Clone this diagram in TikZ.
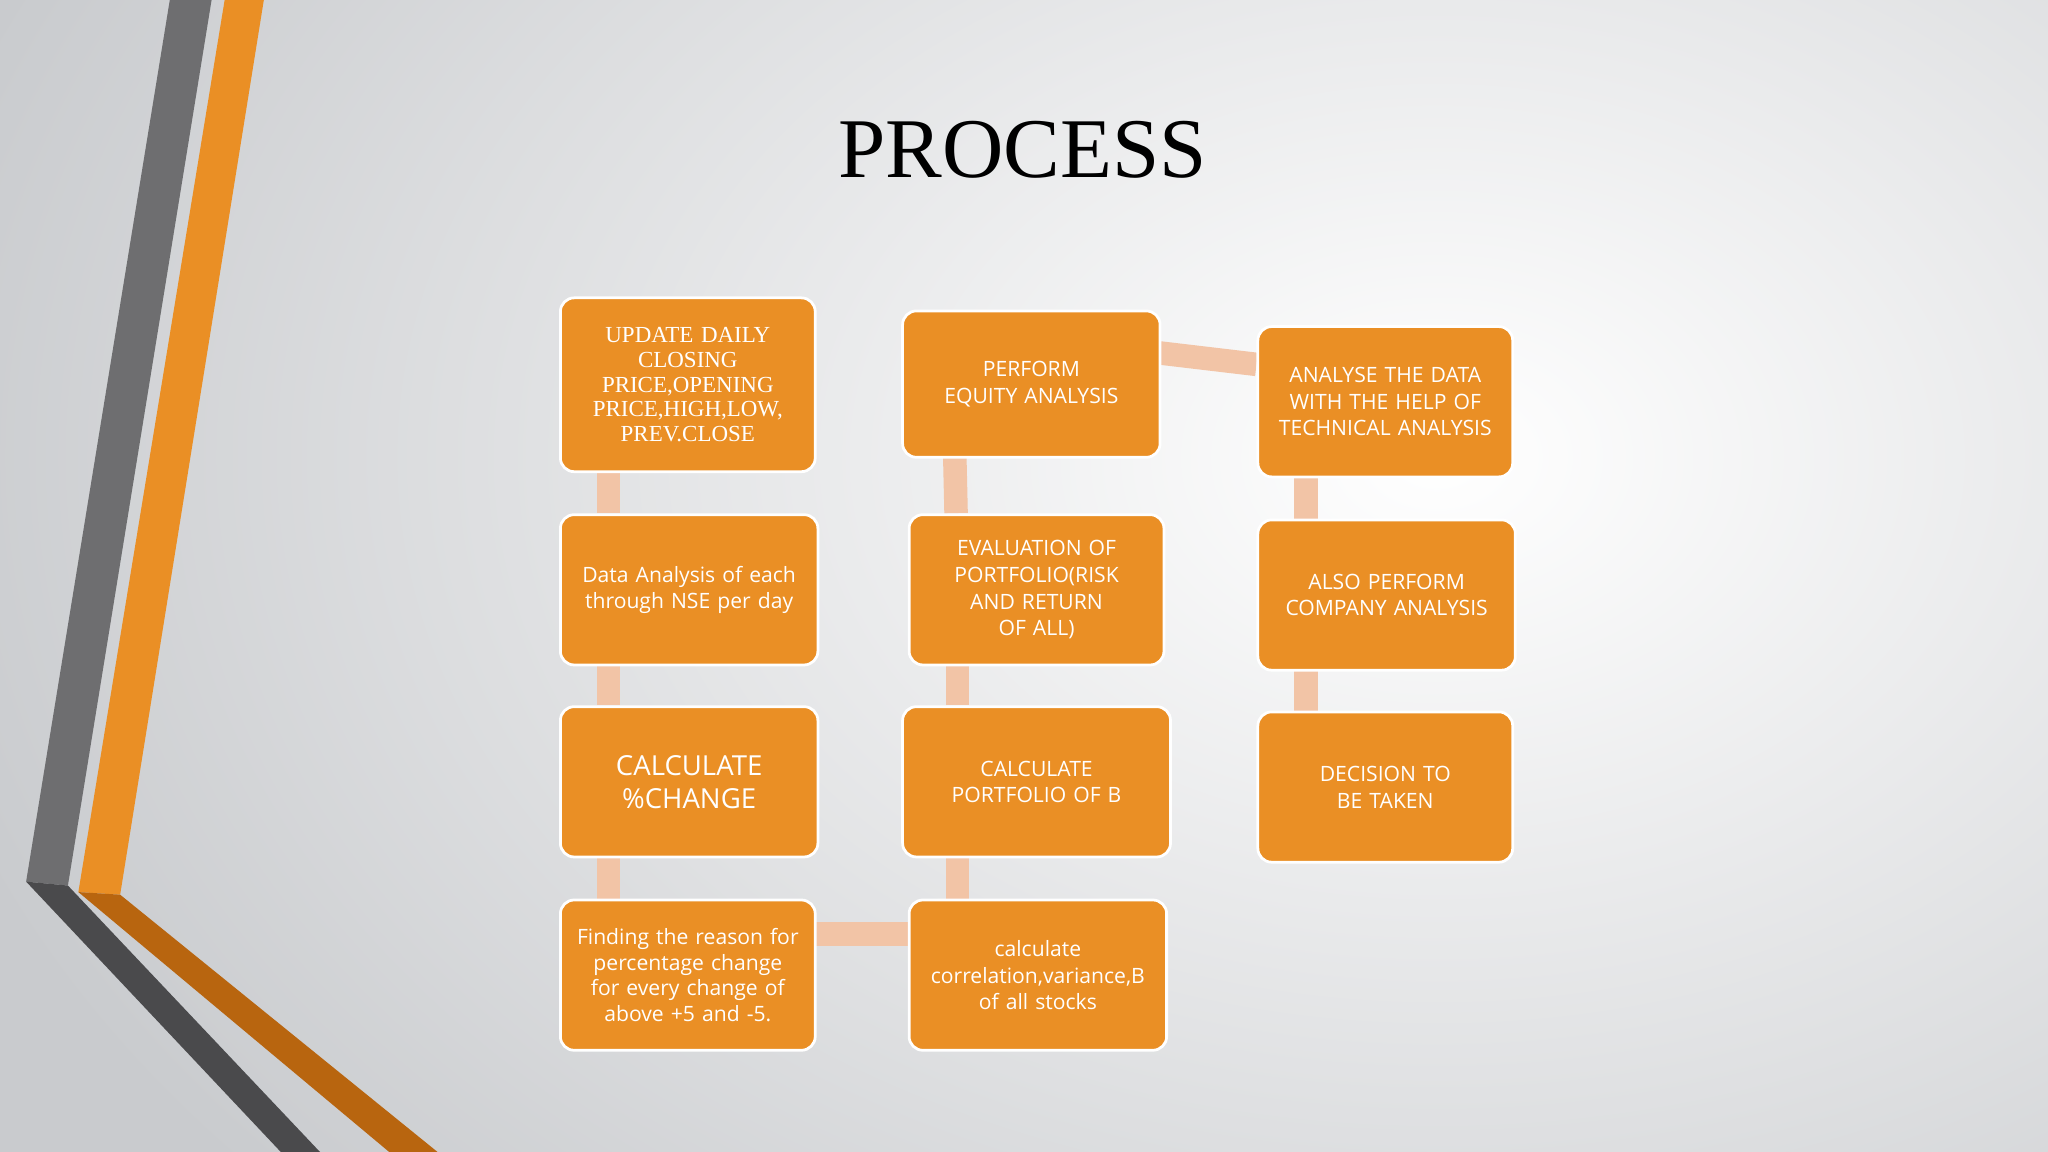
\documentclass[tikz,border=0pt]{standalone}
\usepackage{fontspec}
\setmainfont{Liberation Serif}
\newfontfamily\boxfont{Open Sans}
\usetikzlibrary{calc}
\definecolor{bor}{HTML}{EA8F25}
\definecolor{peach}{HTML}{F2C4A6}
\definecolor{dgray}{HTML}{4A4A4C}
\definecolor{dorange}{HTML}{B8650F}
\definecolor{bgout}{HTML}{C9CBCE}
\tikzset{
  box/.style={draw=white, line width=0.6pt, fill=bor, rounded corners=3pt, minimum width=1.95cm, minimum height=1.15cm, text width=1.9cm, align=center, text=white, font=\boxfont\fontsize{4.6}{5.8}\selectfont, execute at begin node={\hyphenpenalty=10000\exhyphenpenalty=10000}, anchor=north west, inner sep=1pt},
  link/.style={draw=peach, line width=0.18cm}
}
\begin{document}
\begin{tikzpicture}[x=0.01cm,y=-0.01cm]
\useasboundingbox (0,0) rectangle (1568,882);
\shade[inner color=white, outer color=bgout] (-100,-500) rectangle (2300,1200);
\clip (0,0) rectangle (1568,882);
% stripes
\fill[dgray!80] (130,0) -- (162,0) -- (52,678) -- (20,675) -- cycle;
\fill[dgray] (20,675) -- (52,678) -- (245,882) -- (215,882) -- cycle;
\fill[bor] (172,0) -- (202,0) -- (92,685) -- (60,683) -- cycle;
\fill[dorange] (60,683) -- (92,685) -- (335,882) -- (298,882) -- cycle;
\node[font=\fontsize{18.5}{22}\selectfont] (title) at (783,115) {PROCESS};
% links
\coordinate (l1) at (466,360); \coordinate (l2) at (466,393);
\coordinate (l3) at (466,508); \coordinate (l4) at (466,540);
\coordinate (l5) at (466,656); \coordinate (l6) at (466,688);
\coordinate (m1) at (623,715); \coordinate (m2) at (695,715);
\coordinate (n1) at (733,688); \coordinate (n2) at (733,656);
\coordinate (n3) at (733,540); \coordinate (n4) at (733,508);
\coordinate (n5) at (732,393); \coordinate (n6) at (731,349);
\coordinate (p1) at (886,270); \coordinate (p2) at (962,279);
\coordinate (q1) at (1000,364); \coordinate (q2) at (1000,397);
\coordinate (q3) at (1000,512); \coordinate (q4) at (1000,544);
\draw[link] (l1) -- (l2); \draw[link] (l3) -- (l4); \draw[link] (l5) -- (l6);
\draw[link] (m1) -- (m2); \draw[link] (n1) -- (n2); \draw[link] (n3) -- (n4);
\draw[link] (n5) -- (n6); \draw[link] (p1) -- (p2);
\draw[link] (q1) -- (q2); \draw[link] (q3) -- (q4);
% boxes
\node[box, minimum height=1.33cm, text width=1.55cm, font=\fontsize{5}{5.4}\selectfont] (b1) at (428,227) {UPDATE DAILY CLOSING PRICE,OPENING PRICE,HIGH,LOW, PREV.CLOSE\\[0.5em]};
\node[box] (b2) at (428,393) {Data Analysis of each through NSE per day};
\node[box, font=\boxfont\fontsize{6}{7.2}\selectfont] (b3) at (428,540) {CALCULATE \%CHANGE\\[1.6em]};
\node[box, text width=1.75cm, font=\boxfont\fontsize{4.6}{5.6}\selectfont] (b4) at (428,688) {Finding the reason for percentage change for every change of above +5 and -5.};
\node[box, minimum height=1.12cm] (c1) at (690,237) {PERFORM EQUITY ANALYSIS\\[0.6em]};
\node[box, text width=1.6cm] (c2) at (695,393) {EVALUATION OF PORTFOLIO(RISK AND RETURN OF ALL)};
\node[box, minimum width=2.05cm] (c3) at (690,540) {CALCULATE PORTFOLIO OF B};
\node[box] (c4) at (695,688) {calculate correlation,variance,B of all stocks};
\node[box, text width=1.75cm] (d1) at (962,249) {ANALYSE THE DATA WITH THE HELP OF TECHNICAL ANALYSIS};
\node[box] (d2) at (962,397) {ALSO PERFORM COMPANY ANALYSIS};
\node[box, text width=1.5cm] (d3) at (962,544) {DECISION TO BE TAKEN\\[1.2em]};
\end{tikzpicture}
\end{document}
